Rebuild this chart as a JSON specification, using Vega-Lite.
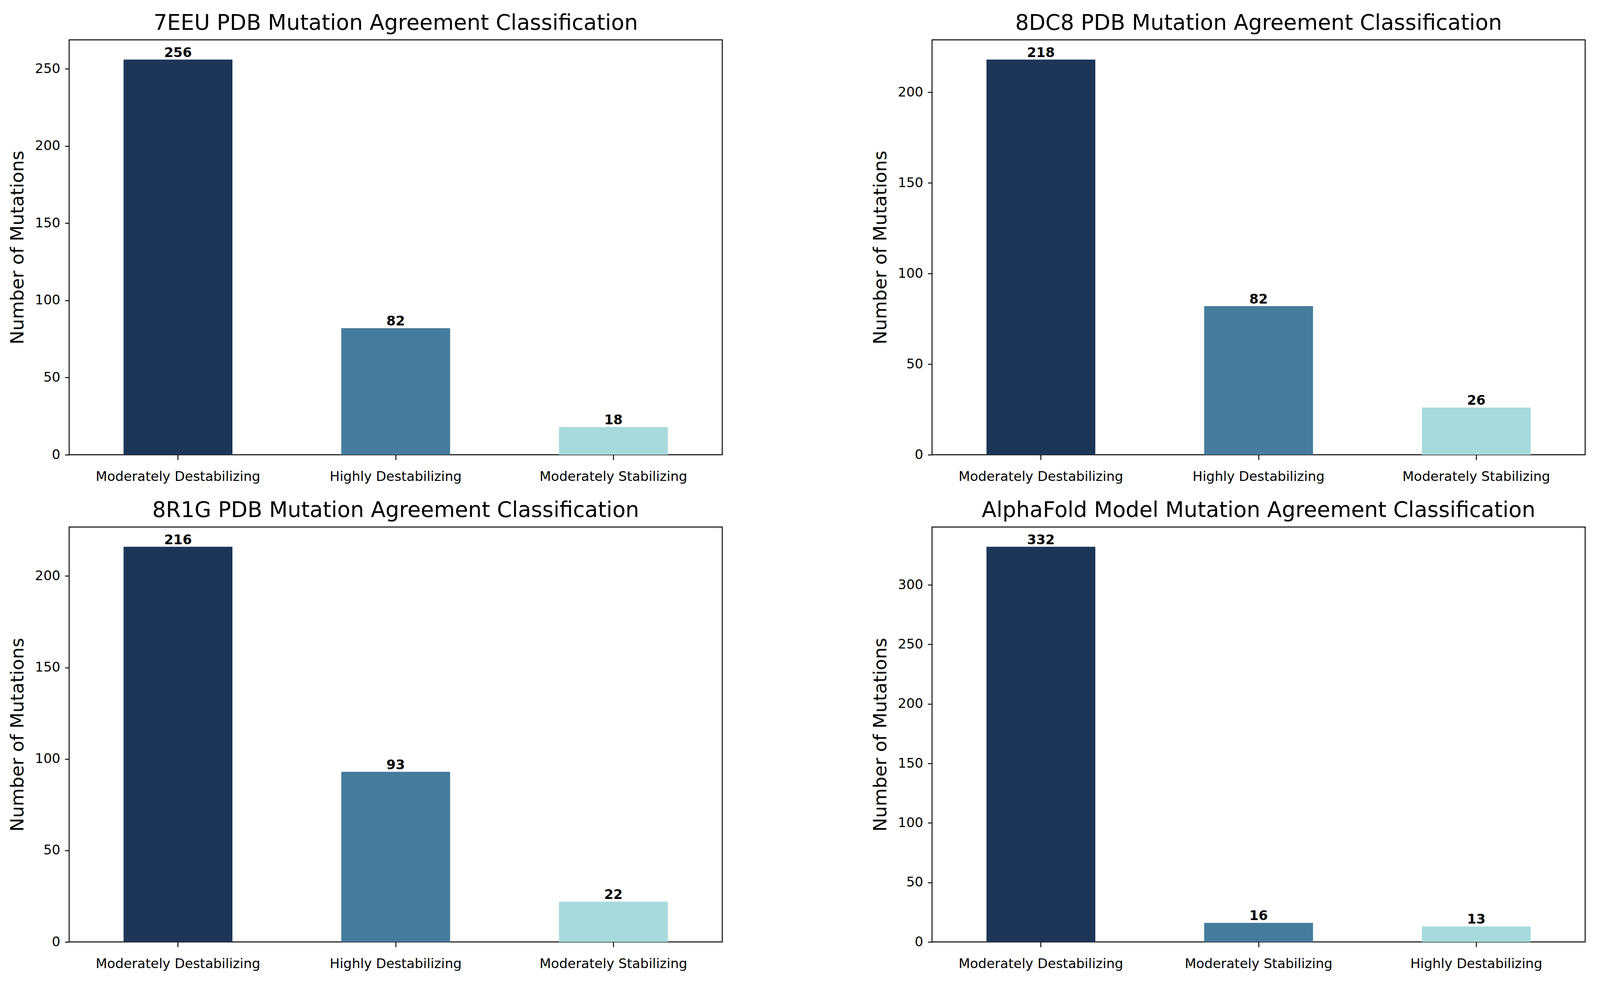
{
  "$schema": "https://vega.github.io/schema/vega-lite/v6.json",
  "background": "white",
  "padding": {"left": 19, "top": 30, "right": 10, "bottom": 5},
  "data": {
    "values": [
      {"structure": "7EEU", "category": "Moderately Destabilizing", "count": 256},
      {"structure": "7EEU", "category": "Highly Destabilizing", "count": 82},
      {"structure": "7EEU", "category": "Moderately Stabilizing", "count": 18},
      {"structure": "8DC8", "category": "Moderately Destabilizing", "count": 218},
      {"structure": "8DC8", "category": "Highly Destabilizing", "count": 82},
      {"structure": "8DC8", "category": "Moderately Stabilizing", "count": 26},
      {"structure": "8R1G", "category": "Moderately Destabilizing", "count": 216},
      {"structure": "8R1G", "category": "Highly Destabilizing", "count": 93},
      {"structure": "8R1G", "category": "Moderately Stabilizing", "count": 22},
      {"structure": "AlphaFold", "category": "Moderately Destabilizing", "count": 332},
      {"structure": "AlphaFold", "category": "Moderately Stabilizing", "count": 16},
      {"structure": "AlphaFold", "category": "Highly Destabilizing", "count": 13}
    ]
  },
  "columns": 2,
  "bounds": "flush",
  "spacing": {"row": 185, "column": 537},
  "concat": [
    {
      "title": "7EEU PDB Mutation Agreement Classification",
      "width": 1672,
      "height": 1062,
      "transform": [
        {"filter": "datum.structure === '7EEU'"},
        {"window": [{"op": "row_number", "as": "rank"}], "sort": [{"field": "count", "order": "descending"}]}
      ],
      "encoding": {
        "x": {"field": "category", "type": "nominal", "title": null, "sort": {"field": "count", "op": "sum", "order": "descending"},
              "scale": {"paddingInner": 0.5, "paddingOuter": 0.25}},
        "y": {"field": "count", "type": "quantitative", "title": "Number of Mutations",
              "scale": {"domain": [0, 268.8], "nice": false, "zero": true},
              "axis": {"values": [0, 50, 100, 150, 200, 250]}}
      },
      "layer": [
        {"mark": {"type": "bar"},
         "encoding": {"color": {"field": "rank", "type": "ordinal", "legend": null, "scale": {"range": ["#1d3557", "#457b9d", "#a8dadc"]}}}},
        {"mark": {"type": "text", "baseline": "bottom", "fontWeight": "bold", "fontSize": 34, "color": "black"},
         "encoding": {"text": {"field": "count", "type": "quantitative"}}}
      ]
    },
    {
      "title": "8DC8 PDB Mutation Agreement Classification",
      "width": 1672,
      "height": 1062,
      "transform": [
        {"filter": "datum.structure === '8DC8'"},
        {"window": [{"op": "row_number", "as": "rank"}], "sort": [{"field": "count", "order": "descending"}]}
      ],
      "encoding": {
        "x": {"field": "category", "type": "nominal", "title": null, "sort": {"field": "count", "op": "sum", "order": "descending"},
              "scale": {"paddingInner": 0.5, "paddingOuter": 0.25}},
        "y": {"field": "count", "type": "quantitative", "title": "Number of Mutations",
              "scale": {"domain": [0, 228.9], "nice": false, "zero": true},
              "axis": {"values": [0, 50, 100, 150, 200]}}
      },
      "layer": [
        {"mark": {"type": "bar"},
         "encoding": {"color": {"field": "rank", "type": "ordinal", "legend": null, "scale": {"range": ["#1d3557", "#457b9d", "#a8dadc"]}}}},
        {"mark": {"type": "text", "baseline": "bottom", "fontWeight": "bold", "fontSize": 34, "color": "black"},
         "encoding": {"text": {"field": "count", "type": "quantitative"}}}
      ]
    },
    {
      "title": "8R1G PDB Mutation Agreement Classification",
      "width": 1672,
      "height": 1062,
      "transform": [
        {"filter": "datum.structure === '8R1G'"},
        {"window": [{"op": "row_number", "as": "rank"}], "sort": [{"field": "count", "order": "descending"}]}
      ],
      "encoding": {
        "x": {"field": "category", "type": "nominal", "title": null, "sort": {"field": "count", "op": "sum", "order": "descending"},
              "scale": {"paddingInner": 0.5, "paddingOuter": 0.25}},
        "y": {"field": "count", "type": "quantitative", "title": "Number of Mutations",
              "scale": {"domain": [0, 226.8], "nice": false, "zero": true},
              "axis": {"values": [0, 50, 100, 150, 200]}}
      },
      "layer": [
        {"mark": {"type": "bar"},
         "encoding": {"color": {"field": "rank", "type": "ordinal", "legend": null, "scale": {"range": ["#1d3557", "#457b9d", "#a8dadc"]}}}},
        {"mark": {"type": "text", "baseline": "bottom", "fontWeight": "bold", "fontSize": 34, "color": "black"},
         "encoding": {"text": {"field": "count", "type": "quantitative"}}}
      ]
    },
    {
      "title": "AlphaFold Model Mutation Agreement Classification",
      "width": 1672,
      "height": 1062,
      "transform": [
        {"filter": "datum.structure === 'AlphaFold'"},
        {"window": [{"op": "row_number", "as": "rank"}], "sort": [{"field": "count", "order": "descending"}]}
      ],
      "encoding": {
        "x": {"field": "category", "type": "nominal", "title": null, "sort": {"field": "count", "op": "sum", "order": "descending"},
              "scale": {"paddingInner": 0.5, "paddingOuter": 0.25}},
        "y": {"field": "count", "type": "quantitative", "title": "Number of Mutations",
              "scale": {"domain": [0, 348.6], "nice": false, "zero": true},
              "axis": {"values": [0, 50, 100, 150, 200, 250, 300]}}
      },
      "layer": [
        {"mark": {"type": "bar"},
         "encoding": {"color": {"field": "rank", "type": "ordinal", "legend": null, "scale": {"range": ["#1d3557", "#457b9d", "#a8dadc"]}}}},
        {"mark": {"type": "text", "baseline": "bottom", "fontWeight": "bold", "fontSize": 34, "color": "black"},
         "encoding": {"text": {"field": "count", "type": "quantitative"}}}
      ]
    }
  ],
  "config": {
    "font": "DejaVu Sans",
    "view": {"stroke": "black", "strokeWidth": 2.4},
    "axis": {
      "domain": false,
      "grid": false,
      "tickColor": "black",
      "tickWidth": 2.4,
      "tickSize": 11,
      "labelColor": "black",
      "labelFontSize": 34,
      "labelFont": "DejaVu Sans",
      "titleColor": "black",
      "titleFontSize": 47,
      "titleFontWeight": "normal",
      "titleFont": "DejaVu Sans"
    },
    "axisX": {"labelAngle": 0, "labelPadding": 26, "labelLimit": 0, "tickSize": 13},
    "axisY": {"labelPadding": 12, "titlePadding": 20},
    "title": {"fontSize": 55, "fontWeight": "normal", "color": "black", "anchor": "middle", "offset": 14, "font": "DejaVu Sans"}
  }
}
